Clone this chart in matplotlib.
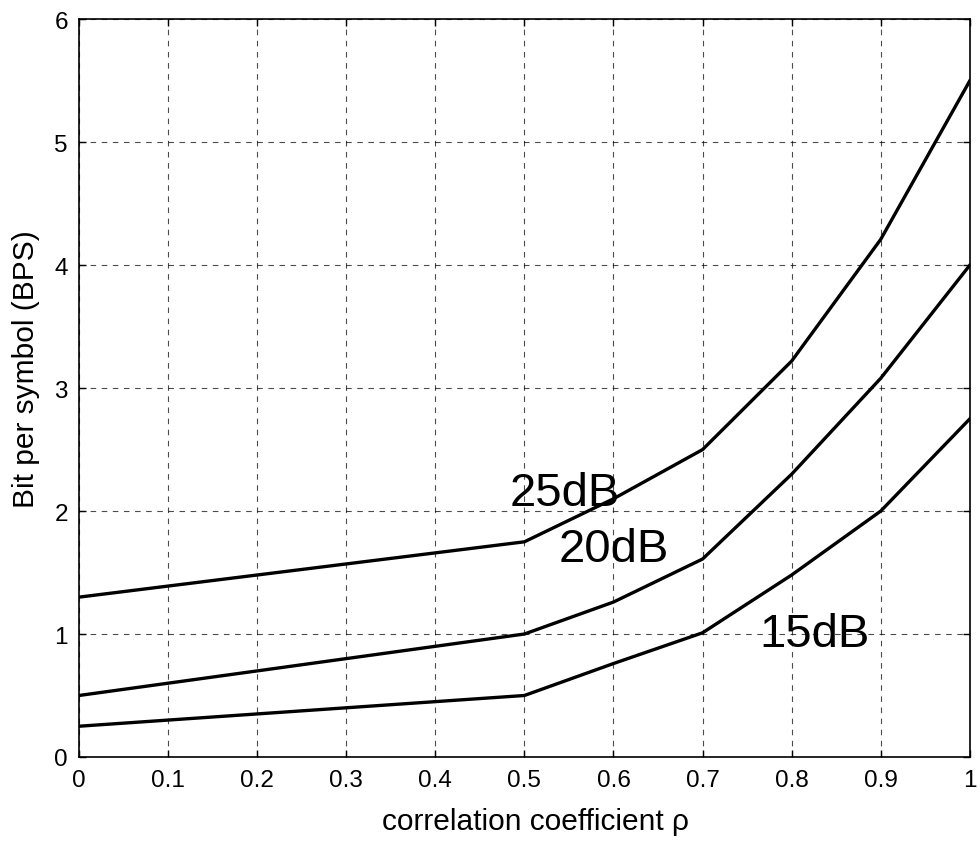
import matplotlib
matplotlib.use("Agg")
import matplotlib.pyplot as plt

plt.rcParams['font.family'] = ['Liberation Sans', 'DejaVu Sans']

rho = [0.0, 0.1, 0.2, 0.3, 0.4, 0.5, 0.6, 0.7, 0.8, 0.9, 1.0]
bps_25dB = [1.30, 1.39, 1.48, 1.57, 1.66, 1.75, 2.10, 2.50, 3.22, 4.21, 5.50]
bps_20dB = [0.50, 0.60, 0.70, 0.80, 0.90, 1.00, 1.26, 1.61, 2.30, 3.08, 4.00]
bps_15dB = [0.25, 0.30, 0.35, 0.40, 0.45, 0.50, 0.76, 1.01, 1.48, 2.00, 2.75]

labels = ["25dB", "20dB", "15dB"]
label_x = [0.545, 0.600, 0.826]
label_y = [2.15, 1.69, 1.00]

xticks = [0, 0.1, 0.2, 0.3, 0.4, 0.5, 0.6, 0.7, 0.8, 0.9, 1]
xticklabels = ["0", "0.1", "0.2", "0.3", "0.4", "0.5", "0.6", "0.7", "0.8", "0.9", "1"]
yticks = [0, 1, 2, 3, 4, 5, 6]

fig = plt.figure(figsize=(9.8, 8.45), dpi=100)
ax = fig.add_axes([0.0806, 0.103, 0.909, 0.873])

for s in (bps_25dB, bps_20dB, bps_15dB):
    ax.plot(rho, s, color='black', lw=2.4, solid_joinstyle='miter')

for t, x, y in zip(labels, label_x, label_y):
    ax.text(x, y, t, fontsize=34, ha='center', va='center')

ax.set_xlim(0, 1)
ax.set_ylim(0, 6)
ax.set_xticks(xticks)
ax.set_xticklabels(xticklabels)
ax.set_yticks(yticks)
ax.tick_params(direction='in', top=True, right=True, length=5, labelsize=17.5, width=1)
ax.tick_params(axis='x', pad=9)
ax.tick_params(axis='y', pad=8)
ax.grid(True, color='black', linestyle=(0, (5, 5)), lw=0.8, alpha=0.7)
for sp in ax.spines.values():
    sp.set_linewidth(1.2)
ax.set_xlabel("correlation coefficient ρ", fontsize=21.5)
ax.set_ylabel("Bit per symbol (BPS)", fontsize=21.5)
ax.xaxis.set_label_coords(0.512, -0.068)
ax.yaxis.set_label_coords(-0.044, 0.527)

fig.savefig("out.png", dpi=100)
